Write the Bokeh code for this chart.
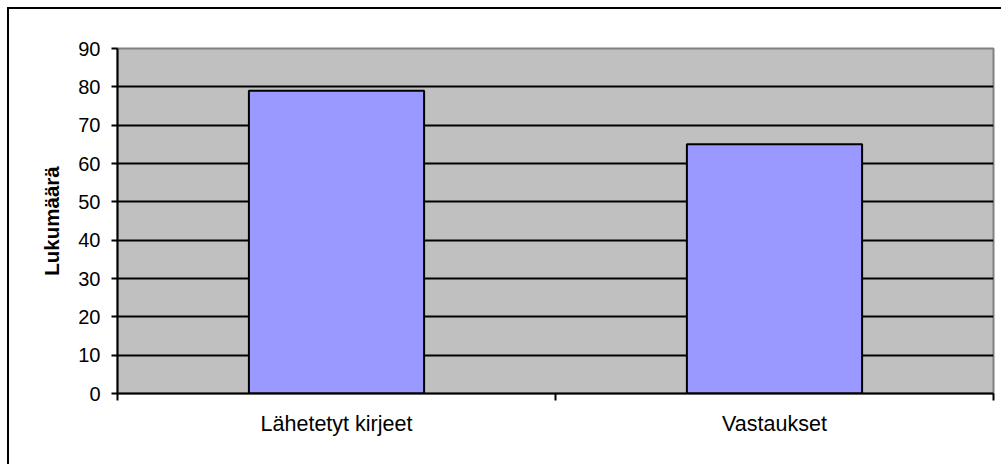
from bokeh.plotting import figure
from bokeh.models import Range1d, FixedTicker
from bokeh.embed import file_html
from bokeh.resources import INLINE

categories = ["Lähetetyt kirjeet", "Vastaukset"]
values = [79, 65]
y_ticks = [0, 10, 20, 30, 40, 50, 60, 70, 80, 90]
y_label = "Lukumäärä"

FONT = "Liberation Sans"

n = len(categories)
centers = [i + 0.5 for i in range(n)]
bounds = [float(i) for i in range(n + 1)]

p = figure(
    width=1001, height=464,
    x_range=Range1d(0, n), y_range=Range1d(y_ticks[0], y_ticks[-1]),
    output_backend="svg", toolbar_location=None,
    min_border_left=117, min_border_right=8,
    min_border_top=48, min_border_bottom=71,
)
p.styles = {
    "background": (
        "linear-gradient(#000, #000) 7px 7px / 2px 100% no-repeat, "
        "linear-gradient(#000, #000) 7px 7px / 100% 2px no-repeat, #fff"
    ),
}
p.border_fill_color = None
p.background_fill_color = "#C0C0C0"
p.outline_line_color = "#808080"
p.outline_line_width = 2

p.vbar(x=centers, top=values, width=0.4, bottom=0,
       fill_color="#9999FF", line_color="black", line_width=2)

# Y axis
p.yaxis.ticker = FixedTicker(ticks=y_ticks)
p.yaxis.axis_line_color = "black"
p.yaxis.axis_line_width = 2
p.yaxis.major_tick_in = 0
p.yaxis.major_tick_out = 6
p.yaxis.major_tick_line_width = 2
p.yaxis.minor_tick_line_color = None
p.yaxis.major_label_text_font = FONT
p.yaxis.major_label_text_font_size = "20px"
p.yaxis.major_label_text_color = "black"
p.yaxis.major_label_standoff = 11
p.yaxis.axis_label = y_label
p.yaxis.axis_label_text_font = FONT
p.yaxis.axis_label_text_font_size = "20.5px"
p.yaxis.axis_label_text_font_style = "bold"
p.yaxis.axis_label_text_color = "black"
p.yaxis.axis_label_standoff = 12

# X axis
p.xaxis.ticker = FixedTicker(ticks=centers, minor_ticks=bounds)
p.xaxis.major_label_overrides = {c: lab for c, lab in zip(centers, categories)}
p.xaxis.axis_line_color = "black"
p.xaxis.axis_line_width = 2
p.xaxis.major_tick_line_color = None
p.xaxis.major_tick_in = 0
p.xaxis.major_tick_out = 0
p.xaxis.minor_tick_in = 0
p.xaxis.minor_tick_out = 7
p.xaxis.minor_tick_line_color = "black"
p.xaxis.minor_tick_line_width = 2
p.xaxis.major_label_text_font = FONT
p.xaxis.major_label_text_font_size = "21.5px"
p.xaxis.major_label_text_color = "black"
p.xaxis.major_label_standoff = 11

# Grid
p.xgrid.grid_line_color = None
p.ygrid.ticker = FixedTicker(ticks=y_ticks[1:-1])
p.ygrid.grid_line_color = "black"
p.ygrid.grid_line_width = 2

open("out.html", "w").write(file_html(p, INLINE))
